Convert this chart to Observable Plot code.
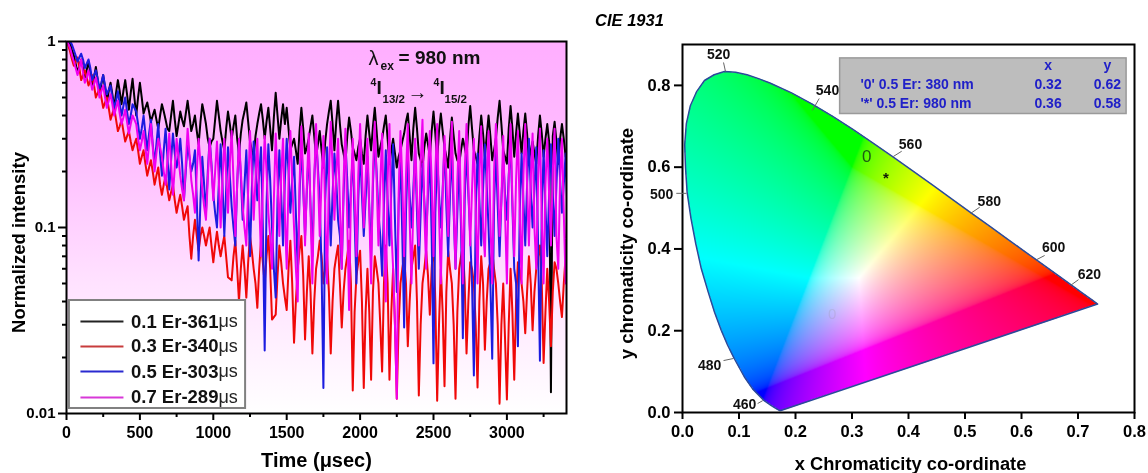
<!DOCTYPE html>
<html><head><meta charset="utf-8">
<script src="https://cdn.jsdelivr.net/npm/d3@7"></script>
<script src="https://cdn.jsdelivr.net/npm/@observablehq/plot@0.6"></script>
<style>
html,body{margin:0;padding:0;background:#fff;width:1148px;height:473px;overflow:hidden}
#left,#right,#caption{position:absolute;filter:blur(.45px)}
#left{left:0;top:0}
#right{left:590px;top:0}
#caption{left:0;width:1259px;top:11px;text-align:center;font:italic bold 16.5px "Liberation Sans";pointer-events:none}
svg{display:block}
</style></head><body>
<div id="left"></div><div id="right"></div><div id="caption">CIE 1931</div>
<script>
// ---- decay curves: intensity on a 25 µs grid, and the samples between them ----
const stepUs = 12.5;
const er01 = [1.00,.97,.84,.68,.80,.64,.78,.58,.73,.52,.66,.47,.60,.44,.62,.46,.62,.43,.63,.40,
.60,.41,.47,.37,.43,.34,.46,.38,.33,.48,.31,.42,.35,.48,.33,.40,.28,.46,.36,.27,
.30,.48,.33,.26,.42,.30,.40,.25,.38,.47,.29,.24,.36,.46,.30,.44,.26,.53,.30,.46,
.44,.26,.30,.22,.44,.25,.30,.40,.24,.33,.21,.36,.48,.26,.48,.28,.22,.39,.27,.23,
.30,.22,.40,.26,.44,.24,.30,.40,.22,.30,.21,.26,.32,.41,.23,.44,.25,.21,.32,.24,
.42,.23,.41,.27,.21,.39,.25,.22,.30,.24,.45,.26,.22,.40,.24,.40,.23,.30,.48,.26,
.22,.45,.24,.41,.25,.41,.23,.29,.22,.40,.24,.36,.013,.37,.22,.36,.24,.21,.30,.24];
const er01Mid = [.99,.90,.76,.74,.72,.70,.68,.64,.62,.59,.56,.54,.52,.53,.54,.54,.52,.53,.50,.50,
.50,.44,.42,.40,.38,.40,.42,.34,.40,.38,.36,.38,.41,.40,.36,.33,.37,.41,.30,.29,
.38,.40,.29,.34,.36,.35,.30,.32,.42,.37,.26,.31,.41,.38,.37,.34,.39,.40,.38,.36,
.34,.28,.26,.33,.34,.27,.35,.31,.28,.26,.29,.42,.36,.37,.36,.25,.31,.33,.25,.27,
.25,.31,.32,.35,.33,.27,.35,.30,.26,.25,.24,.29,.37,.31,.34,.34,.23,.27,.28,.33,
.32,.33,.33,.24,.30,.31,.23,.26,.27,.35,.34,.24,.31,.32,.31,.31,.26,.39,.36,.24,
.34,.34,.32,.32,.33,.32,.26,.25,.31,.32,.30,.29,.31,.29,.30,.30,.23,.26,.27,.25];
const er03 = [1.0,.88,.74,.82,.62,.70,.58,.66,.50,.56,.44,.50,.38,.44,.33,.38,.29,.33,.26,.30,
.22,.26,.19,.23,.17,.21,.15,.19,.14,.17,.12,.15,.11,.13,.068,.11,.075,.10,.08,.10,
.065,.095,.07,.09,.054,.052,.085,.040,.08,.042,.09,.06,.037,.085,.05,.09,.032,.034,.08,.05,
.036,.085,.024,.06,.09,.025,.07,.021,.06,.085,.05,.07,.021,.06,.08,.029,.06,.085,.0133,.055,
.075,.0137,.06,.0152,.07,.05,.0168,.08,.0152,.06,.012,.05,.07,.023,.06,.08,.0125,.05,.075,.034,
.088,.0117,.06,.014,.075,.05,.012,.06,.08,.021,.065,.05,.0138,.07,.022,.06,.075,.05,.0113,.05,
.0119,.06,.0152,.065,.05,.027,.07,.028,.06,.08,.0187,.06,.023,.065,.05,.033,.07,.05,.065,.045];
const er03Mid = [.95,.80,.78,.72,.66,.64,.62,.58,.53,.50,.47,.44,.41,.38,.35,.33,.31,.29,.28,.26,
.24,.22,.21,.20,.19,.17,.17,.16,.155,.14,.135,.13,.12,.09,.09,.09,.09,.09,.09,.08,
.08,.08,.08,.07,.053,.07,.06,.06,.06,.065,.075,.05,.06,.065,.07,.06,.033,.055,.065,.042,
.06,.05,.04,.075,.055,.045,.045,.04,.07,.07,.06,.045,.04,.07,.05,.045,.07,.05,.035,.065,
.04,.035,.035,.045,.06,.03,.05,.05,.035,.03,.03,.06,.05,.04,.07,.04,.03,.06,.055,.06,
.04,.03,.035,.045,.06,.03,.035,.07,.05,.04,.06,.03,.04,.05,.04,.065,.06,.03,.03,.025,
.03,.035,.04,.06,.04,.045,.05,.045,.07,.05,.035,.04,.045,.06,.04,.05,.06,.055,.06,.05];
const er05 = [1.0,1.0,.90,.78,.86,.72,.80,.62,.70,.56,.66,.52,.58,.44,.54,.40,.50,.36,.46,.42,
.30,.40,.26,.38,.22,.36,.19,.34,.16,.32,.21,.30,.14,.28,.20,.26,.0665,.24,.12,.30,
.15,.10,.28,.09,.27,.13,.08,.29,.11,.26,.07,.29,.14,.27,.0218,.28,.10,.042,.26,.08,
.30,.12,.24,.06,.29,.09,.26,.07,.30,.14,.0137,.27,.08,.25,.11,.06,.29,.10,.25,.05,
.27,.09,.24,.07,.30,.12,.055,.26,.08,.28,.045,.25,.029,.24,.10,.27,.06,.22,.09,.26,
.0186,.24,.10,.28,.07,.26,.06,.24,.0254,.27,.09,.016,.25,.08,.28,.10,.0197,.26,.07,.24,
.11,.29,.06,.023,.25,.08,.30,.10,.27,.0192,.26,.07,.28,.09,.30,.12,.25,.06,.20,.10];
const er05Mid = [1.0,.96,.84,.82,.80,.76,.72,.66,.63,.60,.58,.55,.50,.48,.46,.45,.42,.40,.44,.36,
.34,.32,.32,.28,.28,.25,.26,.24,.23,.25,.24,.22,.20,.24,.22,.14,.14,.17,.20,.22,
.12,.17,.17,.16,.19,.10,.17,.19,.17,.14,.16,.21,.19,.10,.13,.18,.06,.14,.15,.18,
.20,.18,.12,.15,.16,.16,.13,.18,.21,.06,.14,.16,.15,.18,.09,.15,.18,.16,.11,.14,
.15,.14,.13,.17,.20,.09,.13,.14,.16,.11,.13,.09,.12,.15,.16,.12,.12,.14,.15,.09,
.12,.15,.16,.13,.15,.12,.12,.10,.14,.15,.05,.12,.14,.16,.17,.05,.13,.13,.14,.15,
.19,.13,.05,.12,.14,.17,.16,.16,.08,.12,.13,.15,.15,.17,.18,.17,.12,.11,.14,.13];
const er07 = [1.0,.92,.78,.66,.80,.60,.70,.55,.64,.50,.58,.44,.52,.40,.48,.36,.43,.32,.40,.36,
.26,.33,.22,.36,.20,.30,.24,.17,.32,.15,.30,.19,.14,.34,.18,.12,.30,.16,.11,.30,
.14,.29,.10,.30,.12,.33,.09,.30,.13,.08,.33,.11,.30,.07,.31,.12,.06,.32,.09,.30,
.06,.33,.10,.04,.35,.08,.32,.05,.36,.09,.31,.05,.37,.11,.30,.06,.34,.036,.30,.07,
.36,.10,.30,.05,.37,.08,.32,.04,.36,.06,.012,.33,.07,.36,.05,.30,.08,.38,.06,.33,
.07,.36,.05,.31,.09,.37,.06,.33,.05,.36,.08,.30,.05,.35,.07,.33,.05,.36,.09,.31,
.05,.36,.07,.33,.05,.36,.08,.32,.06,.34,.05,.30,.08,.34,.06,.30,.05,.28,.10,.22];
const er07Mid = [.97,.84,.72,.72,.68,.64,.62,.59,.57,.54,.50,.48,.46,.44,.41,.39,.37,.36,.38,.30,
.29,.27,.28,.27,.25,.27,.20,.23,.22,.21,.24,.16,.22,.25,.15,.20,.22,.13,.18,.21,
.20,.18,.18,.19,.22,.18,.17,.20,.10,.16,.20,.18,.14,.17,.20,.09,.14,.18,.19,.12,
.18,.18,.06,.17,.18,.17,.12,.18,.19,.18,.12,.19,.21,.19,.13,.18,.11,.15,.15,.19,
.20,.18,.12,.20,.18,.17,.10,.18,.10,.03,.15,.18,.19,.11,.13,.15,.22,.12,.20,.18,
.20,.12,.15,.19,.20,.13,.18,.12,.20,.17,.16,.12,.19,.10,.18,.11,.20,.19,.14,.12,
.18,.14,.18,.12,.19,.17,.18,.10,.18,.11,.17,.15,.20,.09,.18,.12,.17,.16,.13,.16];
const seriesColors = ["#000000","#f00808","#1c1ce0","#f000f0"];
const seriesKeys = ["0.1 Er-361","0.3 Er-340","0.5 Er-303","0.7 Er-289"];
const legendLineColors = ["#222222","#c83c3c","#2a2ad0","#d838d8"];
const legendRowY = [.0312,.0229,.0168,.0122];

const timeMajor = [0,500,1000,1500,2000,2500,3000];
const timeMinor = [250,750,1250,1750,2250,2750,3250];
const intensityMajor = [1,0.1,0.01];
const intensityMinor = [.9,.8,.7,.6,.5,.4,.3,.2,.09,.08,.07,.06,.05,.04,.03,.02];

// annotation pieces
const noteText = ["ex","= 980 nm","4","I","13/2","4","I","15/2"];
const noteT    = [2139,2262,2071,2112,2153,2500,2541,2575];
const noteI    = [.734,.82,.602,.566,.488,.602,.566,.488];
const noteSize = [12,19,10.5,19,11.5,10.5,19,11.5];
const symbolText = ["λ","→"];
const symbolT = [2091,2391];
const symbolI = [.81,.532];
const symbolSize = [20,20];

// ---- CIE 1931 spectral locus (x, y) ----
const locusX = [.1741,.1714,.1644,.1566,.1440,.1241,.1096,.0913,.0797,.0687,.0567,.0454,.0332,.0235,.0150,.0082,.0054,.0039,.0068,.0139,.0247,.0389,.0560,.0743,.0940,.1142,.1345,.1547,.1929,.2296,.2658,.3016,.3373,.3731,.4087,.4441,.4788,.5125,.5448,.5752,.6029,.6270,.6658,.6915,.7079,.7260,.7347,.1741];
const locusY = [.0050,.0051,.0109,.0177,.0297,.0578,.0868,.1327,.1650,.2007,.2450,.2950,.3520,.4127,.4750,.5384,.5980,.6548,.7065,.7502,.7840,.8120,.8260,.8338,.8320,.8262,.8165,.8059,.7816,.7543,.7243,.6923,.6589,.6245,.5896,.5547,.5202,.4866,.4544,.4242,.3965,.3725,.3340,.3083,.2920,.2740,.2653,.0050];
const locusPts = locusX.map((x,i)=>[x,locusY[i]]);

const waveLabel = ["520","540","560","580","600","620","500","480","460"];
const waveTextX = [.064,.2566,.4035,.543,.657,.720,-.037,.048,.110];
const waveTextY = [.876,.788,.656,.516,.404,.338,.533,.115,.020];
const waveTickX1 = [.0726,.230,.373,.510,.627,.687,-.011,.0726,.133];
const waveTickX2 = [.0761,.242,.388,.526,.641,.701,.007,.090,.142];
const waveTickY1 = [.856,.739,.626,.487,.374,.311,.536,.127,.022];
const waveTickY2 = [.834,.768,.639,.502,.384,.325,.536,.132,.029];

const chromaTicksX = [0,.1,.2,.3,.4,.5,.6,.7,.8];
const chromaTicksY = [0,.2,.4,.6,.8];

const tableRows = ["'0' 0.5 Er: 380 nm","'*' 0.5 Er: 980 nm"];
const tableXs = [0.32,0.36];
const tableYs = [0.62,0.58];
const tableRowY = [.802,.755];

function chromaColor(x,y){
  const yy=Math.max(y,.001);
  const X=x/yy, Z=(1-x-yy)/yy;
  const r0= 3.2406*X-1.5372-0.4986*Z, g0=-0.9689*X+1.8758+0.0415*Z, b0=0.0557*X-0.2040+1.0570*Z;
  const r=Math.max(r0,0),g=Math.max(g0,0),b=Math.max(b0+.2*Math.max(-r0,0),0);
  const m=Math.max(r,g,b,1e-6);
  const c=v=>Math.round(255*Math.pow(v/m,1/2.4));
  return `rgb(${c(r)},${c(g)},${c(b)})`;
}
const chromaInside = (x,y)=> d3.polygonContains(locusPts,[x,y]) ? 1 : 0;

const interleave = (a,b)=>d3.merge(a.map((v,i)=>[v,b[i]]));

const gradientDef = () => {
  const s = d3.create("svg:defs");
  const g = s.append("linearGradient").attr("id","bgfade").attr("x1",0).attr("y1",0).attr("x2",0).attr("y2",1);
  g.append("stop").attr("offset","0%").attr("stop-color","#ffaeff");
  g.append("stop").attr("offset","30%").attr("stop-color","#ffbcff");
  g.append("stop").attr("offset","65%").attr("stop-color","#ffe2ff");
  g.append("stop").attr("offset","100%").attr("stop-color","#ffffff");
  return s.node();
};

const left = Plot.plot({
  width:580,height:473,marginLeft:66,marginRight:14,marginTop:41,marginBottom:60,
  style:{fontFamily:"Liberation Sans",color:"#000",background:"transparent"},
  x:{domain:[0,3406]},
  y:{type:"log",domain:[.01,1]},
  marks:[
    gradientDef,
    Plot.frame({fill:"url(#bgfade)",stroke:null}),
    ...[[er01,er01Mid],[er03,er03Mid],[er05,er05Mid],[er07,er07Mid]].map(([a,b],k)=>Plot.lineY(interleave(a,b),{x:(d,i)=>i*stepUs,y:d=>d,stroke:seriesColors[k],strokeWidth:2,clip:true,strokeLinejoin:"round"})),
    Plot.frame({stroke:"#000",strokeWidth:2}),
    Plot.axisX(timeMajor,{tickSize:7,tickPadding:6,fontSize:16,fontWeight:"bold",strokeWidth:2,tickFormat:d=>String(d),label:null}),
    Plot.axisX(timeMinor,{tickSize:4,strokeWidth:2,tickFormat:()=>"",label:null}),
    Plot.axisY(intensityMajor,{tickSize:8,tickPadding:3,fontSize:15,fontWeight:"bold",strokeWidth:2,tickFormat:d=>String(d),label:null}),
    Plot.axisY(intensityMinor,{tickSize:4,strokeWidth:2,tickFormat:()=>"",label:null}),
    Plot.text(["Normalized intensity"],{frameAnchor:"left",dx:-47,dy:15,rotate:-90,fontSize:18.5,fontWeight:"bold",textAnchor:"middle"}),
    Plot.text(["Time (μsec)"],{frameAnchor:"bottom",dy:53,fontSize:20,fontWeight:"bold"}),
    // annotation
    Plot.text(noteText,{x:(d,i)=>noteT[i],y:(d,i)=>noteI[i],text:d=>d,fontSize:(d,i)=>noteSize[i],fontWeight:"bold",textAnchor:"start",fill:"#111"}),
    Plot.text(symbolText,{x:(d,i)=>symbolT[i],y:(d,i)=>symbolI[i],text:d=>d,fontSize:(d,i)=>symbolSize[i],fill:"#111"}),
    // legend
    Plot.rect([0],{x1:20,x2:1220,y1:.01064,y2:.0405,fill:"#fff",stroke:"#808080",strokeWidth:2}),
    Plot.link(seriesKeys,{x1:95,x2:388,y1:(d,i)=>legendRowY[i],y2:(d,i)=>legendRowY[i],stroke:(d,i)=>legendLineColors[i],strokeWidth:2}),
    Plot.text(seriesKeys,{x:1035,y:(d,i)=>legendRowY[i],text:d=>d,textAnchor:"end",fontSize:18.5,fontWeight:"bold",fill:"#111"}),
    Plot.text(seriesKeys,{x:1035,y:(d,i)=>legendRowY[i],text:()=>"μs",textAnchor:"start",fontSize:18,fill:"#222"})
  ],
  color:{type:"identity"}
});
document.getElementById("left").append(left);

const right = Plot.plot({
  width:558,height:473,marginLeft:92,marginRight:14,marginTop:44,marginBottom:61,
  style:{fontFamily:"Liberation Sans",color:"#000",background:"transparent"},
  x:{domain:[0,.8]},
  y:{domain:[0,.9]},
  color:{type:"identity"},
  marks:[
    Plot.raster({x1:0,x2:.8,y1:0,y2:.9,width:452,height:368,fill:chromaColor,fillOpacity:chromaInside}),
    Plot.line(locusPts,{x:d=>d[0],y:d=>d[1],stroke:"#2b4a9a",strokeWidth:1.5}),
    Plot.frame({stroke:"#000",strokeWidth:2}),
    Plot.axisX(chromaTicksX,{tickSize:7,tickPadding:6,fontSize:16.5,fontWeight:"bold",strokeWidth:2,tickFormat:d=>d.toFixed(1),label:null}),
    Plot.axisY(chromaTicksY,{tickSize:8,tickPadding:4,fontSize:16.5,fontWeight:"bold",strokeWidth:2,tickFormat:d=>d.toFixed(1),label:null}),
    Plot.text(["y chromaticity co-ordinate"],{frameAnchor:"left",dx:-55,dy:15,rotate:-90,fontSize:18.5,fontWeight:"bold",textAnchor:"middle"}),
    Plot.text(["x Chromaticity co-ordinate"],{frameAnchor:"bottom",dx:2,dy:57,fontSize:18.3,fontWeight:"bold"}),
    Plot.link(waveLabel,{x1:(d,i)=>waveTickX1[i],x2:(d,i)=>waveTickX2[i],y1:(d,i)=>waveTickY1[i],y2:(d,i)=>waveTickY2[i],stroke:"#666",strokeWidth:1}),
    Plot.text(waveLabel,{x:(d,i)=>waveTextX[i],y:(d,i)=>waveTextY[i],text:d=>d,fontSize:14,fontWeight:"bold",fill:"#111"}),
    // emission points
    Plot.text(["0"],{x:[tableXs[0]+.006],y:[tableYs[0]+.006],text:d=>d,fontSize:17,fill:"#1d5a14"}),
    Plot.text(["*"],{x:[tableXs[1]],y:[tableYs[1]-.008],text:d=>d,fontSize:15,fontWeight:"bold",fill:"#101808"}),
    Plot.text(["0"],{x:[.265],y:[.24],text:d=>d,fontSize:15,fill:"#808060",fillOpacity:.15}),
    // table
    Plot.rect([0],{x1:.279,x2:.786,y1:.73,y2:.866,fill:"#bdbdbd",stroke:"#9a9a9a",strokeWidth:1.5}),
    Plot.text(["x","y"],{x:[.647,.752],y:[.849,.849],text:d=>d,fontSize:14,fontWeight:"bold",fill:"#2020c8"}),
    Plot.text(tableRows,{x:.315,y:(d,i)=>tableRowY[i],text:d=>d,textAnchor:"start",fontSize:14,fontWeight:"bold",fill:"#2020c8"}),
    Plot.text(tableXs,{x:.647,y:(d,i)=>tableRowY[i],text:d=>d.toFixed(2),fontSize:14,fontWeight:"bold",fill:"#2020c8"}),
    Plot.text(tableYs,{x:.752,y:(d,i)=>tableRowY[i],text:d=>d.toFixed(2),fontSize:14,fontWeight:"bold",fill:"#2020c8"})
  ]
});
document.getElementById("right").append(right);
</script>
</body></html>
